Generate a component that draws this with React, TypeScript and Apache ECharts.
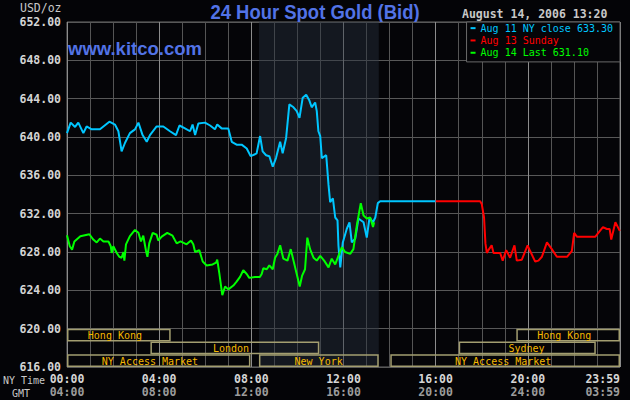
import * as echarts from 'echarts'
import { useEffect, useRef } from 'react'

// Aug 11 New York close session (cyan), hours in NY time
const aug11Hours = [
  0.0, 0.16, 0.35, 0.49, 0.71, 0.85, 1.07, 1.43, 1.84, 2.08, 2.23, 2.37, 2.52, 2.73, 2.95, 3.1, 3.28, 3.46, 3.6, 3.89,
  4.18, 4.47, 4.73, 4.88, 5.12, 5.34, 5.45, 5.56, 5.7, 5.99, 6.21, 6.42, 6.52, 6.71, 7.0, 7.15, 7.36, 7.58, 7.8, 7.97,
  8.16, 8.23, 8.38, 8.49, 8.64, 8.78, 8.93, 9.07, 9.25, 9.36, 9.51, 9.65, 9.83, 9.97, 10.09, 10.23, 10.38, 10.52, 10.62,
  10.77, 10.84, 10.91, 10.99, 11.06, 11.25, 11.35, 11.42, 11.54, 11.64, 11.74, 11.78, 11.86, 11.97, 12.14, 12.26, 12.36,
  12.51, 12.65, 12.87, 13.01, 13.13, 13.28, 13.38, 13.49, 13.59, 16.0,
]
const aug11Prices = [
  640.4, 641.5, 641.05, 641.5, 640.4, 641.1, 640.8, 640.8, 641.6, 641.3, 640.6, 638.5, 639.4, 640.4, 640.8, 641.5, 640.2,
  639.5, 640.2, 641.1, 641.1, 640.6, 640.2, 641.2, 640.9, 640.6, 641.3, 640.2, 641.4, 641.5, 641.2, 640.8, 641.3, 640.9,
  640.9, 639.5, 639.2, 639.2, 638.8, 638.0, 638.2, 638.3, 640.1, 638.5, 638.1, 638.0, 636.9, 637.8, 639.5, 638.3, 639.9,
  643.4, 643.1, 642.7, 642.0, 644.1, 644.4, 643.8, 643.1, 643.6, 642.7, 640.6, 640.1, 637.8, 638.1, 635.0, 633.2, 633.6,
  631.6, 631.3, 628.7, 626.4, 629.0, 630.4, 631.1, 629.0, 629.4, 631.5, 631.1, 629.5, 631.6, 631.1, 631.6, 633.1, 633.3,
  633.3,
]

// Aug 13 Sunday evening (red)
const aug13Hours = [
  16.0, 17.93, 18.0, 18.1, 18.16, 18.22, 18.29, 18.43, 18.51, 18.8, 18.91, 19.06, 19.23, 19.42, 19.52, 19.74, 19.99,
  20.1, 20.32, 20.46, 20.61, 20.83, 21.04, 21.26, 21.7, 21.91, 22.01, 22.13, 22.57, 22.93, 23.26, 23.43, 23.55, 23.62,
  23.8, 23.99,
]
const aug13Prices = [
  633.3, 633.3, 633.0, 631.6, 628.9, 627.9, 628.2, 628.7, 627.9, 627.9, 627.1, 628.2, 627.4, 628.7, 627.1, 627.2, 628.7,
  628.1, 627.0, 627.1, 627.5, 629.0, 628.3, 627.5, 627.5, 628.1, 630.0, 629.6, 629.6, 629.6, 630.6, 630.4, 630.4, 629.3,
  631.1, 630.2,
]

// Aug 14 (green)
const aug14Hours = [
  0.0, 0.12, 0.22, 0.32, 0.58, 0.97, 1.14, 1.29, 1.43, 1.58, 1.8, 1.9, 1.94, 2.01, 2.16, 2.27, 2.37, 2.45, 2.49, 2.56,
  2.73, 2.95, 3.1, 3.21, 3.31, 3.43, 3.49, 3.57, 3.72, 3.89, 3.96, 4.11, 4.35, 4.58, 4.76, 4.93, 5.19, 5.38, 5.48, 5.56,
  5.74, 5.89, 6.06, 6.32, 6.47, 6.52, 6.61, 6.74, 6.86, 7.0, 7.22, 7.36, 7.51, 7.65, 7.8, 7.91, 8.16, 8.37, 8.45, 8.52,
  8.67, 8.78, 8.93, 9.03, 9.13, 9.25, 9.39, 9.57, 9.71, 9.83, 9.97, 10.1, 10.2, 10.33, 10.43, 10.55, 10.7, 10.84, 10.99,
  11.16, 11.35, 11.49, 11.64, 11.78, 11.93, 12.07, 12.29, 12.43, 12.58, 12.75, 12.87, 13.01, 13.16, 13.28, 13.33,
]
const aug14Prices = [
  629.75, 628.6, 628.25, 629.1, 629.65, 629.85, 629.3, 629.0, 629.4, 629.1, 629.1, 628.6, 627.9, 628.6, 627.9, 627.5,
  627.4, 628.0, 627.1, 628.8, 629.65, 630.3, 630.0, 629.1, 629.7, 628.1, 627.5, 628.9, 630.0, 629.8, 629.2, 629.6, 630.0,
  629.7, 628.9, 629.1, 628.8, 629.2, 628.8, 628.0, 628.2, 627.0, 626.6, 626.7, 626.9, 627.2, 625.8, 623.5, 624.4, 624.1,
  624.5, 624.9, 625.4, 626.1, 625.7, 625.3, 625.4, 625.4, 625.7, 626.3, 626.2, 626.6, 626.2, 627.4, 627.8, 628.7, 627.3,
  627.1, 628.3, 627.1, 625.7, 624.4, 625.5, 626.2, 629.5, 628.3, 627.4, 627.1, 627.6, 627.1, 626.4, 627.3, 626.7, 627.6,
  628.5, 628.0, 627.8, 628.3, 630.8, 633.1, 631.8, 631.5, 631.6, 630.6, 631.1,
]

const seriesNames = ['Aug 11 NY close 633.30', 'Aug 13 Sunday', 'Aug 14 Last 631.10']
const seriesColors = ['#00c6ff', '#ff0000', '#00ff00']

// market sessions: row 0 = top band, 2 = bottom band
const sessionNames = ['Hong Kong', 'London', 'NY Access Market', 'New York', 'NY Access Market', 'Sydney', 'Hong Kong']
const sessionStarts = [0, 3.62, 0, 8.33, 14.03, 17.0, 19.5]
const sessionEnds = [4.5, 10.95, 7.96, 13.53, 24, 22.95, 24]
const sessionRows = [0, 1, 2, 2, 2, 1, 0]
const sessionLabelAt = [2.08, 7.12, 3.6, 10.92, 18.93, 19.94, 21.58]

const comexStart = 8.33
const comexEnd = 13.53

const xLabelHours = [0, 4, 8, 12, 16, 20, 24]
const priceMin = 616
const priceMax = 652
const priceStep = 4

const mono = '"DejaVu Sans Mono", monospace'
const sans = '"Liberation Sans", Arial, sans-serif'

function pairs(hours: number[], prices: number[]) {
  return hours.map((hour, i) => [hour, prices[i]])
}

function pad2(n: number) {
  return String(n).padStart(2, '0')
}

function nyLabel(hour: number) {
  return hour >= 24 ? '23:59' : `${pad2(hour)}:00`
}

function gmtLabel(hour: number) {
  return hour >= 24 ? '03:59' : `${pad2(hour + 4)}:00`
}

function buildOption() {
  return {
    animation: false,
    backgroundColor: '#040407',
    grid: {
      left: 67,
      right: 10,
      top: 22,
      bottom: 33,
      show: true,
      backgroundColor: '#050508',
      borderColor: '#6a6a6a',
      borderWidth: 1,
    },
    legend: {
      orient: 'vertical',
      right: 10,
      top: 22,
      itemWidth: 5,
      itemHeight: 2,
      itemGap: 0,
      icon: 'rect',
      selectedMode: false,
      backgroundColor: '#050508',
      borderColor: '#6a6a6a',
      borderWidth: 1,
      borderRadius: 0,
      padding: [0, 7, 3, 4],
      textStyle: { fontFamily: mono, fontSize: 10, lineHeight: 12.3 },
      data: seriesNames.map((name, i) => ({ name, textStyle: { color: seriesColors[i] } })),
    },
    graphic: [
      {
        type: 'text',
        x: 315,
        y: 11.2,
        scaleX: 0.9,
        style: {
          text: '24 Hour Spot Gold (Bid)',
          fill: '#5273e6',
          font: `bold 20.5px ${sans}`,
          align: 'center',
          verticalAlign: 'middle',
        },
      },
      {
        type: 'text',
        x: 68,
        y: 48.8,
        z: 10,
        style: {
          text: 'www.kitco.com',
          fill: '#5273e6',
          font: `bold 18.5px ${sans}`,
          align: 'left',
          verticalAlign: 'middle',
        },
      },
      {
        type: 'text',
        x: 20,
        y: 8,
        style: { text: 'USD/oz', fill: '#c8c8c8', font: `11.5px ${mono}`, align: 'left', verticalAlign: 'middle' },
      },
      {
        type: 'text',
        x: 462,
        y: 14,
        style: {
          text: 'August 14, 2006 13:20',
          fill: '#c8c8c8',
          font: `bold 11.5px ${mono}`,
          align: 'left',
          verticalAlign: 'middle',
        },
      },
      {
        type: 'text',
        x: 3,
        y: 380,
        style: { text: 'NY Time', fill: '#c8c8c8', font: `10px ${mono}`, align: 'left', verticalAlign: 'middle' },
      },
      {
        type: 'text',
        x: 12,
        y: 393,
        style: { text: 'GMT', fill: '#c8c8c8', font: `10px ${mono}`, align: 'left', verticalAlign: 'middle' },
      },
    ],
    xAxis: {
      type: 'value',
      min: 0,
      max: 24,
      interval: 1,
      axisLine: { show: false },
      axisTick: { show: false },
      axisLabel: {
        customValues: xLabelHours,
        margin: 5,
        alignMaxLabel: 'right',
        formatter: (value: number) => `{a|${nyLabel(value)}}\n{b|${gmtLabel(value)}}`,
        rich: {
          a: { color: '#d6d6d6', fontFamily: mono, fontSize: 11.5, fontWeight: 'bold', lineHeight: 13.4 },
          b: { color: '#9c9c9c', fontFamily: mono, fontSize: 11.5, fontWeight: 'bold', lineHeight: 13.4 },
        },
      },
      splitLine: {
        lineStyle: { color: ['#8c8c8c', '#555555', '#555555', '#555555'], width: 1 },
      },
    },
    yAxis: {
      type: 'value',
      min: priceMin,
      max: priceMax,
      interval: priceStep,
      axisLine: { show: false },
      axisTick: { show: false },
      axisLabel: {
        color: '#d4d4d4',
        fontFamily: mono,
        fontSize: 11.5,
        fontWeight: 'bold',
        margin: 6,
        formatter: (value: number) => value.toFixed(2),
      },
      splitLine: { lineStyle: { color: '#585858', width: 1 } },
    },
    series: [
      {
        type: 'custom',
        silent: true,
        z: 1,
        data: [[comexStart, comexEnd]],
        renderItem: (_params: any, api: any) => {
          const a = api.coord([api.value(0), priceMax])
          const b = api.coord([api.value(1), priceMin])
          return {
            type: 'rect',
            shape: { x: a[0], y: a[1], width: b[0] - a[0], height: b[1] - a[1] },
            style: { fill: 'rgba(40, 48, 62, 0.45)' },
          }
        },
      },
      {
        type: 'custom',
        silent: true,
        z: 5,
        data: sessionNames.map((_, i) => [sessionStarts[i], sessionEnds[i], sessionRows[i], sessionLabelAt[i]]),
        renderItem: (params: any, api: any) => {
          const top = api.coord([api.value(0), 620])
          const bottom = api.coord([api.value(1), priceMin])
          const rowH = (bottom[1] - top[1]) / 3
          const y = top[1] + api.value(2) * rowH
          const labelX = api.coord([api.value(3), 620])[0]
          return {
            type: 'group',
            children: [
              {
                type: 'rect',
                shape: { x: top[0] + 0.75, y: y + 0.75, width: bottom[0] - top[0] - 1.5, height: rowH - 1.5 },
                style: { fill: 'none', stroke: '#a39e70', lineWidth: 1.5 },
              },
              {
                type: 'text',
                x: labelX,
                y: y + rowH / 2 + 0.5,
                style: {
                  text: sessionNames[params.dataIndex],
                  fill: '#f5b800',
                  font: `10px ${mono}`,
                  align: 'center',
                  verticalAlign: 'middle',
                },
              },
            ],
          }
        },
      },
      {
        name: seriesNames[0],
        type: 'line',
        z: 3,
        data: pairs(aug11Hours, aug11Prices),
        showSymbol: false,
        color: seriesColors[0],
        lineStyle: { color: seriesColors[0], width: 2 },
      },
      {
        name: seriesNames[1],
        type: 'line',
        z: 3,
        data: pairs(aug13Hours, aug13Prices),
        showSymbol: false,
        color: seriesColors[1],
        lineStyle: { color: seriesColors[1], width: 2 },
      },
      {
        name: seriesNames[2],
        type: 'line',
        z: 4,
        data: pairs(aug14Hours, aug14Prices),
        showSymbol: false,
        color: seriesColors[2],
        lineStyle: { color: seriesColors[2], width: 2 },
      },
    ],
  }
}

export default function App() {
  const chartRef = useRef<HTMLDivElement>(null)

  useEffect(() => {
    const element = chartRef.current
    if (!element) return
    const instance = echarts.init(element, null, { renderer: 'svg' })
    instance.setOption(buildOption())
    return () => instance.dispose()
  }, [])

  return (
    <div
      ref={chartRef}
      style={{ position: 'absolute', left: 0, top: 0, width: 630, height: 400, background: '#040407' }}
    />
  )
}
